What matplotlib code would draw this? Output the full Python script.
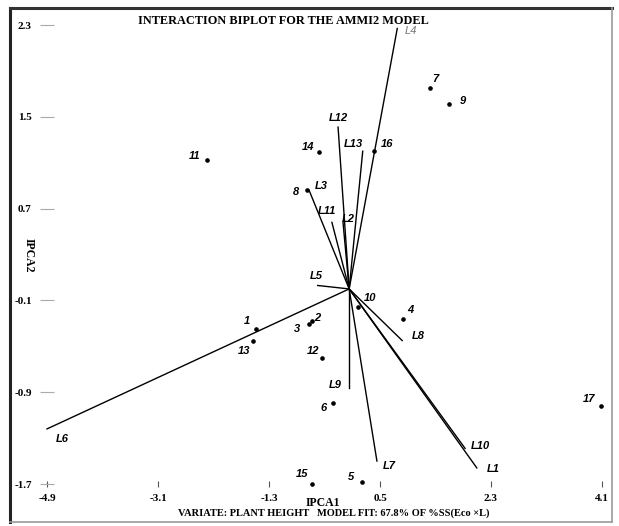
import matplotlib.pyplot as plt
from matplotlib.lines import Line2D

# genotype scores (IPCA1, IPCA2)
gen_names = ['1', '2', '3', '4', '5', '6', '7', '8', '9', '10', '11', '12', '13', '14', '15', '16', '17']
gen_ipca1 = [-1.51, -0.60, -0.65, 0.87, 0.21, -0.26, 1.31, -0.68, 1.62, 0.14, -2.31, -0.44, -1.56, -0.49, -0.60, 0.40, 4.08]
gen_ipca2 = [-0.35, -0.28, -0.31, -0.26, -1.68, -0.99, 1.75, 0.86, 1.61, -0.16, 1.12, -0.60, -0.45, 1.19, -1.70, 1.20, -1.02]

# environment vectors
env_names = ['L1', 'L2', 'L3', 'L4', 'L5', 'L6', 'L7', 'L8', 'L9', 'L10', 'L11', 'L12', 'L13']
env_ipca1 = [2.07, -0.10, -0.65, 0.78, -0.51, -4.90, 0.45, 0.86, 0.00, 1.88, -0.28, -0.18, 0.22]
env_ipca2 = [-1.56, 0.58, 0.86, 2.27, 0.03, -1.22, -1.50, -0.45, -0.86, -1.39, 0.58, 1.41, 1.20]

xticks = [-4.9, -3.1, -1.3, 0.5, 2.3, 4.1]
yticks = [-1.7, -0.9, -0.1, 0.7, 1.5, 2.3]

# label offsets in pixels (dx, dy up)
gen_off = {'1': (-9, 8), '2': (5, 3), '3': (-12, -5), '4': (7, 9), '5': (-11, 5),
           '6': (-10, -5), '7': (5, 9), '8': (-11, -2), '9': (14, 3), '10': (12, 9),
           '11': (-12, 4), '12': (-9, 7), '13': (-9, -10), '14': (-11, 5), '15': (-10, 10),
           '16': (13, 7), '17': (-12, 7)}
env_off = {'L1': (16, -1), 'L2': (5, 3), 'L3': (12, 4), 'L4': (14, -3), 'L5': (-1, 9),
           'L6': (15, -10), 'L7': (12, -5), 'L8': (16, 5), 'L9': (-14, 3), 'L10': (15, 2),
           'L11': (-5, 11), 'L12': (0, 9), 'L13': (-9, 7)}

W, H = 619, 526
fig = plt.figure(figsize=(W / 100, H / 100), dpi=100)
ax = fig.add_axes([47 / W, 42 / H, 555 / W, 459 / H])
ax.set_xlim(-4.9, 4.1)
ax.set_ylim(-1.7, 2.3)
for s in ax.spines.values():
    s.set_visible(False)

serif = 'Liberation Serif'
sans = 'Liberation Sans'

for name, x, y in zip(env_names, env_ipca1, env_ipca2):
    ax.plot([0, x], [0, y], color='black', lw=1.0, clip_on=False)
    dx, dy = env_off[name]
    col = '#777777' if name == 'L4' else 'black'
    wt = 'normal' if name == 'L4' else 'bold'
    ax.annotate(name, (x, y), xytext=(dx * 0.72, dy * 0.72), textcoords='offset points',
                ha='center', va='center', fontsize=8, fontstyle='italic', fontweight=wt,
                family=sans, color=col)

ax.plot(gen_ipca1, gen_ipca2, 'o', color='black', ms=2.3, clip_on=False)
for name, x, y in zip(gen_names, gen_ipca1, gen_ipca2):
    dx, dy = gen_off[name]
    ax.annotate(name, (x, y), xytext=(dx * 0.72, dy * 0.72), textcoords='offset points',
                ha='center', va='center', fontsize=8, fontstyle='italic', fontweight='bold',
                family=sans)

ax.set_xticks(xticks)
ax.set_xticklabels(['%.1f' % v for v in xticks])
ax.set_yticks(yticks)
ax.set_yticklabels(['%.1f' % v for v in yticks])
ax.tick_params(axis='x', direction='inout', length=5, width=0.8, color='#555555', pad=5)
ax.tick_params(axis='y', direction='inout', length=10, width=0.8, color='#aaaaaa', pad=6)
for lab in ax.get_xticklabels() + ax.get_yticklabels():
    lab.set_family(serif)
    lab.set_fontweight('bold')
    lab.set_fontsize(8)

ax.set_xlabel('IPCA1', family=serif, fontweight='bold', fontsize=8.5)
ax.xaxis.set_label_coords((323 - 47) / 555, -0.028)
ax.set_ylabel('IPCA2', family=serif, fontweight='bold', fontsize=8.5,
              rotation=270, va='center', ha='center', rotation_mode='default')
ax.yaxis.set_label_coords((29 - 47) / 555, 0.499)

fig.text(283 / W, 1 - 21 / H, 'INTERACTION BIPLOT FOR THE AMMI2 MODEL',
         ha='center', va='center', family=serif, fontweight='bold', fontsize=8.8)
fig.text(334 / W, 1 - 513 / H, 'VARIATE: PLANT HEIGHT   MODEL FIT: 67.8% OF %SS(Eco \u00d7L)',
         ha='center', va='center', family=serif, fontweight='bold', fontsize=7.5)

# outer frame
fig.add_artist(Line2D([10 / W, 10 / W], [1 - 8 / H, 1 - 522 / H], color='#222222', lw=2.2))
fig.add_artist(Line2D([10 / W, 612 / W], [1 - 8 / H, 1 - 8 / H], color='#333333', lw=2.2))
fig.add_artist(Line2D([612 / W, 612 / W], [1 - 8 / H, 1 - 522 / H], color='#999999', lw=1.2))
fig.add_artist(Line2D([10 / W, 612 / W], [1 - 522 / H, 1 - 522 / H], color='#999999', lw=1.2))

fig.savefig('out.png', dpi=100)
